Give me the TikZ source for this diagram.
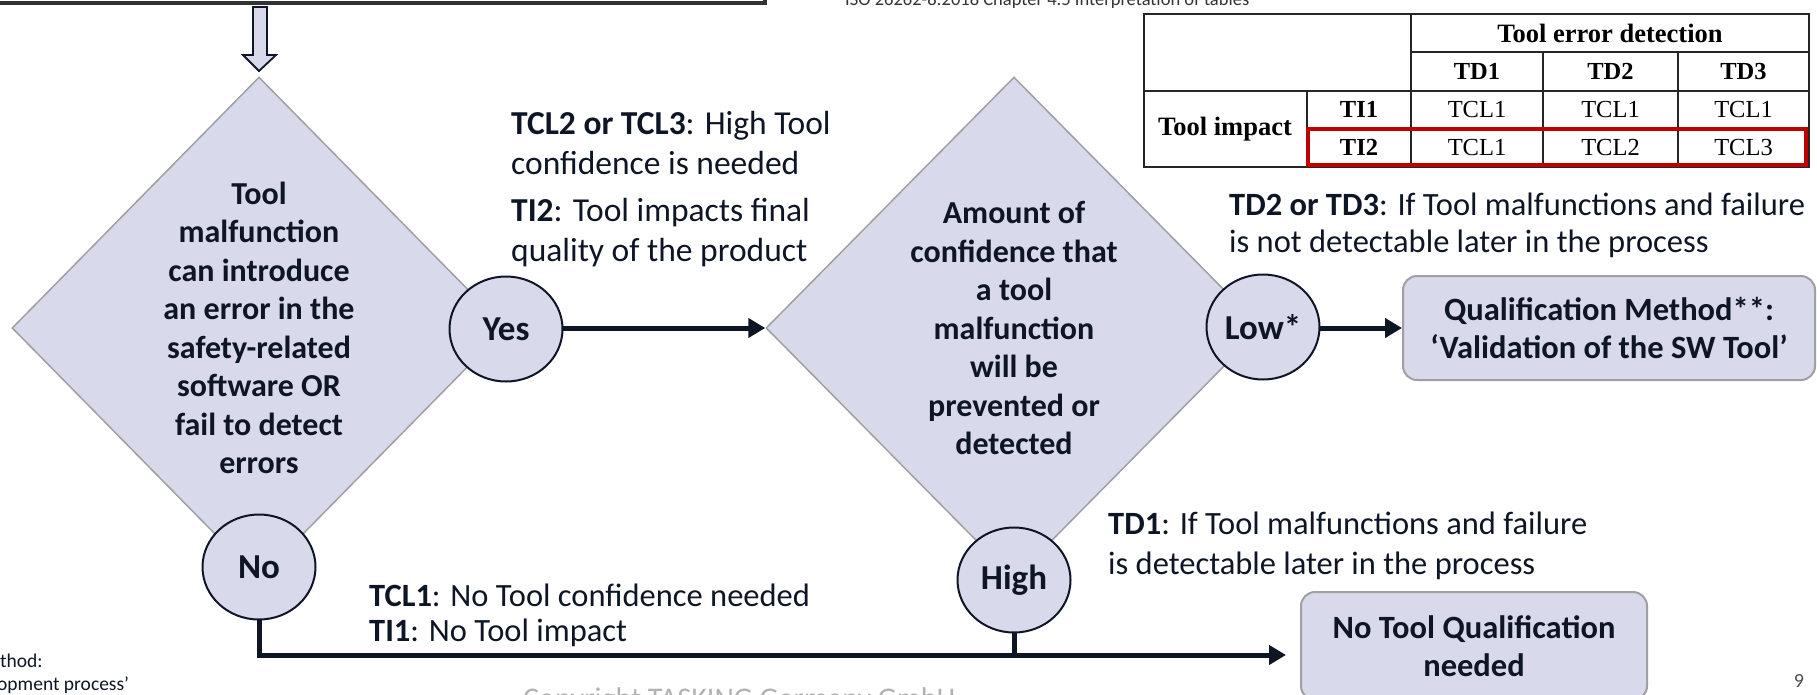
\documentclass[tikz,border=0pt]{standalone}
\usepackage{fontspec}
\setmainfont{Carlito}
\newfontfamily\tablefont{Liberation Serif}
\usetikzlibrary{shapes.geometric, arrows.meta}

\definecolor{lav}{RGB}{216,217,234}
\definecolor{ink}{RGB}{14,22,38}
\definecolor{rimgray}{RGB}{160,160,160}
\definecolor{markred}{RGB}{192,0,0}

\begin{document}
\begin{tikzpicture}[x=1pt, y=-1pt, >={Triangle[length=17pt, width=19pt]},
  decision/.style={diamond, draw=rimgray, line width=1.5pt, fill=lav, inner sep=0pt, minimum height=502pt},
  qtext/.style={align=center, text=ink, font=\bfseries\fontsize{32}{38.5}\selectfont},
  answer/.style={ellipse, draw=ink, line width=2pt, fill=lav, minimum width=113pt, minimum height=105pt, inner sep=0pt, text=ink, font=\bfseries\fontsize{35}{40}\selectfont},
  result/.style={rectangle, rounded corners=14pt, draw=rimgray, line width=2pt, fill=lav, align=center, text=ink, font=\bfseries\fontsize{32.5}{38}\selectfont},
  note/.style={anchor=west, align=left, inner sep=0pt, text=ink},
  flow/.style={->, line width=5pt, draw=ink},
  tline/.style={line width=1.5pt, draw=black!85},
  cellhead/.style={inner sep=0pt, font=\tablefont\bfseries\fontsize{24.5}{26}\selectfont},
  cellval/.style={inner sep=0pt, font=\tablefont\fontsize{24.5}{26}\selectfont},
]
  \useasboundingbox (0,0) rectangle (1817,694);

  % ==================== INPUT BOX + BLOCK ARROW ====================
  \draw[line width=3.5pt, draw=black!80] (-20,-40) rectangle (765,3);
  \draw[fill=lav, draw=ink, line width=1.8pt] (253,7) -- (267,7) -- (267,55) -- (276,55)
    -- (259,71) -- (243,55) -- (253,55) -- cycle;

  % ==================== DECISIONS ====================
  \node[decision, minimum width=494pt] (q1) at (259,328) {};
  \node[qtext] (q1text) at (q1) {Tool\\malfunction\\can introduce\\an error in the\\safety-related\\software OR\\fail to detect\\errors};

  \node[decision, minimum width=496pt] (q2) at (1014,328) {};
  \node[qtext] (q2text) at (q2) {Amount of\\confidence that\\a tool\\malfunction\\will be\\prevented or\\detected};

  % ==================== RESULTS ====================
  \node[result, minimum width=412pt, minimum height=104pt] (qualify) at (1609,328) {Qualification Method**:\\‘Validation of the SW Tool’};
  \node[result, minimum width=346pt, minimum height=108pt] (noqual) at (1474,646) {No Tool Qualification\\needed};

  % connectors (drawn before the answer bubbles)
  \coordinate (nqin) at (1286,655);
  \draw[flow] (q1.east) -- (q2.west);
  \draw[flow] (q2.east) -- (qualify.west);
  \draw[flow] (q1.south) |- (nqin);
  \draw[line width=5pt, ink] (q2.south) -- (q2.south |- nqin);

  % ==================== ANSWERS ====================
  \node[answer] (yes) at (506,329) {Yes};
  \node[answer] (no) at (259,567) {No};
  \node[answer] (low) at (1263,327) {Low*};
  \node[answer] (high) at (1014,580) {High};

  % ==================== NOTES ====================
  \node[note, font=\fontsize{33.5}{40}\selectfont] (tclhigh) at (511,143) {\textbf{TCL2 or TCL3}: High Tool\\confidence is needed};
  \node[note, font=\fontsize{33.5}{40}\selectfont] (tiimpact) at (511,233) {\textbf{TI2}: Tool impacts final\\quality of the product};
  \node[note, font=\fontsize{32.5}{37}\selectfont] (tdlow) at (1229,225) {\textbf{TD2 or TD3}: If Tool malfunctions and failure\\is not detectable later in the process};
  \node[note, font=\fontsize{32.5}{40}\selectfont] (tdhigh) at (1108,546) {\textbf{TD1}: If Tool malfunctions and failure\\is detectable later in the process};
  \node[note, font=\fontsize{32.5}{35}\selectfont] (tcllow) at (369,615) {\textbf{TCL1}: No Tool confidence needed\\\textbf{TI1}: No Tool impact};

  % ==================== ISO TABLE ====================
  \node[anchor=base west, inner sep=0pt, text=black!80, font=\fontsize{18.5}{20}\selectfont] (isoref) at (845,5) {ISO 26262-8:2018 Chapter 4.5 Interpretation of tables};

  \fill[white] (1144,14) rectangle (1809,167);
  \draw[tline] (1411,52) -- (1809,52);
  \draw[line width=2.5pt, black!85] (1144,91) -- (1809,91);
  \draw[tline] (1307,128) -- (1809,128);
  \draw[tline] (1307,91) -- (1307,167);
  \draw[tline] (1411,14) -- (1411,167);
  \draw[tline] (1543,52) -- (1543,167);
  \draw[tline] (1678,52) -- (1678,167);
  \draw[line width=2.2pt, black!85] (1144,14) rectangle (1809,167);

  \node[cellhead, font=\tablefont\bfseries\fontsize{26.5}{28}\selectfont] (tdhead) at (1610,33) {Tool error detection};
  \node[cellhead, font=\tablefont\bfseries\fontsize{26.5}{28}\selectfont] (tihead) at (1225,129) {Tool impact};
  \foreach \c/\x in {1/1477, 2/1610.5, 3/1743.5}
    \node[cellhead] (td\c) at (\x,71.5) {TD\c};
  \node[cellhead] (ti1) at (1359,109.5) {TI1};
  \node[cellhead] (ti2) at (1359,147.5) {TI2};
  \foreach \x/\v in {1477/1, 1610.5/2, 1743.5/3} {
    \node[cellval] (low\v) at (\x,109.5) {TCL1};
    \node[cellval] (high\v) at (\x,147.5) {TCL\v};
  }
  \draw[markred, line width=4pt] (1308,129) rectangle (1806,165);

  % ==================== PAGE FURNITURE ====================
  \node[anchor=base west, inner sep=0pt, text=ink, font=\fontsize{19.5}{22}\selectfont] (fnone) at (0,667) {thod:};
  \node[anchor=base west, inner sep=0pt, text=ink, font=\fontsize{19.5}{22}\selectfont] (fntwo) at (-3,690) {opment process’};
  \node[anchor=base west, inner sep=0pt, text=black!30, font=\fontsize{30}{32}\selectfont] (copyline) at (523,708) {Copyright TASKING Germany GmbH};
  \node[anchor=base, inner sep=0pt, text=black!70, font=\fontsize{20}{22}\selectfont] (pageno) at (1799,687) {9};
\end{tikzpicture}
\end{document}
